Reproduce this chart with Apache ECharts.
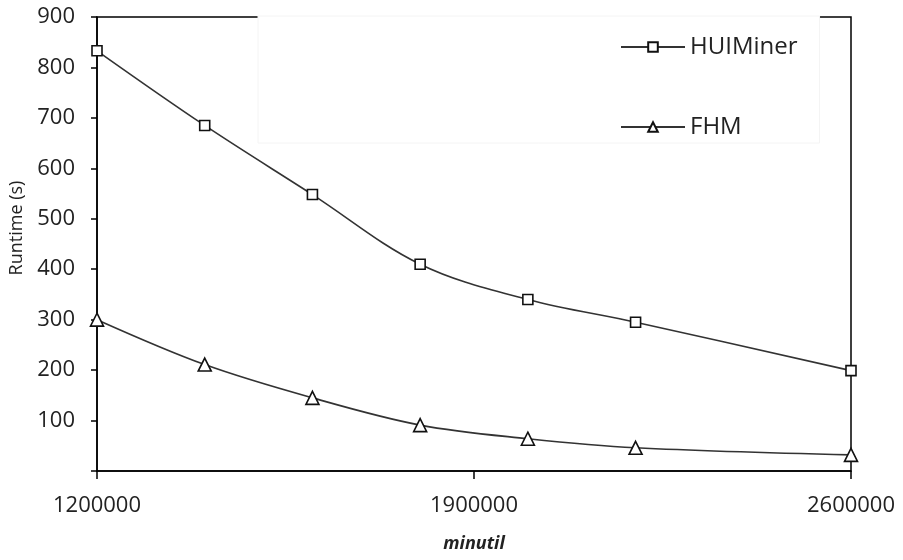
<!DOCTYPE html>
<html>
<head>
<meta charset="utf-8">
<script src="https://cdn.jsdelivr.net/npm/echarts@6/dist/echarts.min.js"></script>
<style>
  html, body { margin: 0; padding: 0; background: #fff; }
  #chart { width: 903px; height: 560px; }
</style>
</head>
<body>
<div id="chart"></div>
<script>
const minutil = [1200000, 1400000, 1600000, 1800000, 2000000, 2200000, 2600000];
const huiMiner = [833, 685, 548, 410, 340, 295, 199];
const fhm = [300, 211, 145, 91, 64, 46, 32];
const xTicks = [1200000, 1900000, 2600000];

const font = 'Open Sans';
const chart = echarts.init(document.getElementById('chart'));

function pairs(ys) {
  return minutil.map(function(x, i) {
    return [x, ys[i]];
  });
}

chart.setOption({
  backgroundColor: '#fff',
  animation: false,
  textStyle: { fontFamily: font, color: '#222' },
  grid: {
    left: 97,
    right: 52,
    top: 17,
    bottom: 89,
    show: true,
    borderColor: '#000',
    borderWidth: 1.5
  },
  legend: {
    orient: 'vertical',
    left: 258,
    top: 16,
    padding: [19, 22, 4, 362],
    itemGap: 56,
    itemWidth: 64,
    itemHeight: 12,
    backgroundColor: '#fff',
    borderColor: '#f4f4f4',
    borderWidth: 1,
    textStyle: { fontFamily: font, fontSize: 24, color: '#222' },
    data: ['HUIMiner', 'FHM']
  },
  xAxis: {
    type: 'value',
    min: 1200000,
    max: 2600000,
    name: 'minutil',
    nameLocation: 'middle',
    nameGap: 64,
    nameTextStyle: { fontFamily: font, fontSize: 18, fontStyle: 'italic', fontWeight: 'bold', color: '#222' },
    axisLine: { lineStyle: { color: '#000', width: 1.5 } },
    axisTick: { show: true, length: 8, customValues: xTicks, lineStyle: { color: '#000', width: 1.5 } },
    axisLabel: {
      customValues: xTicks,
      margin: 24,
      fontFamily: font,
      fontSize: 22,
      color: '#222',
      formatter: function(v) {
        return String(v);
      }
    },
    splitLine: { show: false }
  },
  yAxis: {
    type: 'value',
    min: 0,
    max: 900,
    interval: 100,
    name: 'Runtime (s)',
    nameLocation: 'middle',
    nameGap: 68,
    nameTextStyle: { fontFamily: font, fontSize: 18, color: '#222', padding: [0, 0, 0, 32] },
    axisLine: { show: true, lineStyle: { color: '#000', width: 1.5 } },
    axisTick: { show: true, length: 6, lineStyle: { color: '#000', width: 1.5 } },
    axisLabel: {
      margin: 22,
      fontFamily: font,
      fontSize: 22,
      color: '#222',
      formatter: function(v) {
        return v === 0 ? '' : String(v);
      }
    },
    splitLine: { show: false }
  },
  series: [{
    name: 'HUIMiner',
    type: 'line',
    smooth: 0.35,
    clip: false,
    symbol: 'rect',
    symbolSize: 10,
    data: pairs(huiMiner),
    lineStyle: { color: '#333', width: 1.6 },
    itemStyle: { color: '#fff', borderColor: '#111', borderWidth: 1.6 }
  },
  {
    name: 'FHM',
    type: 'line',
    smooth: 0.35,
    clip: false,
    symbol: 'triangle',
    symbolSize: 13,
    data: pairs(fhm),
    lineStyle: { color: '#333', width: 1.6 },
    itemStyle: { color: '#fff', borderColor: '#111', borderWidth: 1.6 }
  }]
});
</script>
</body>
</html>
